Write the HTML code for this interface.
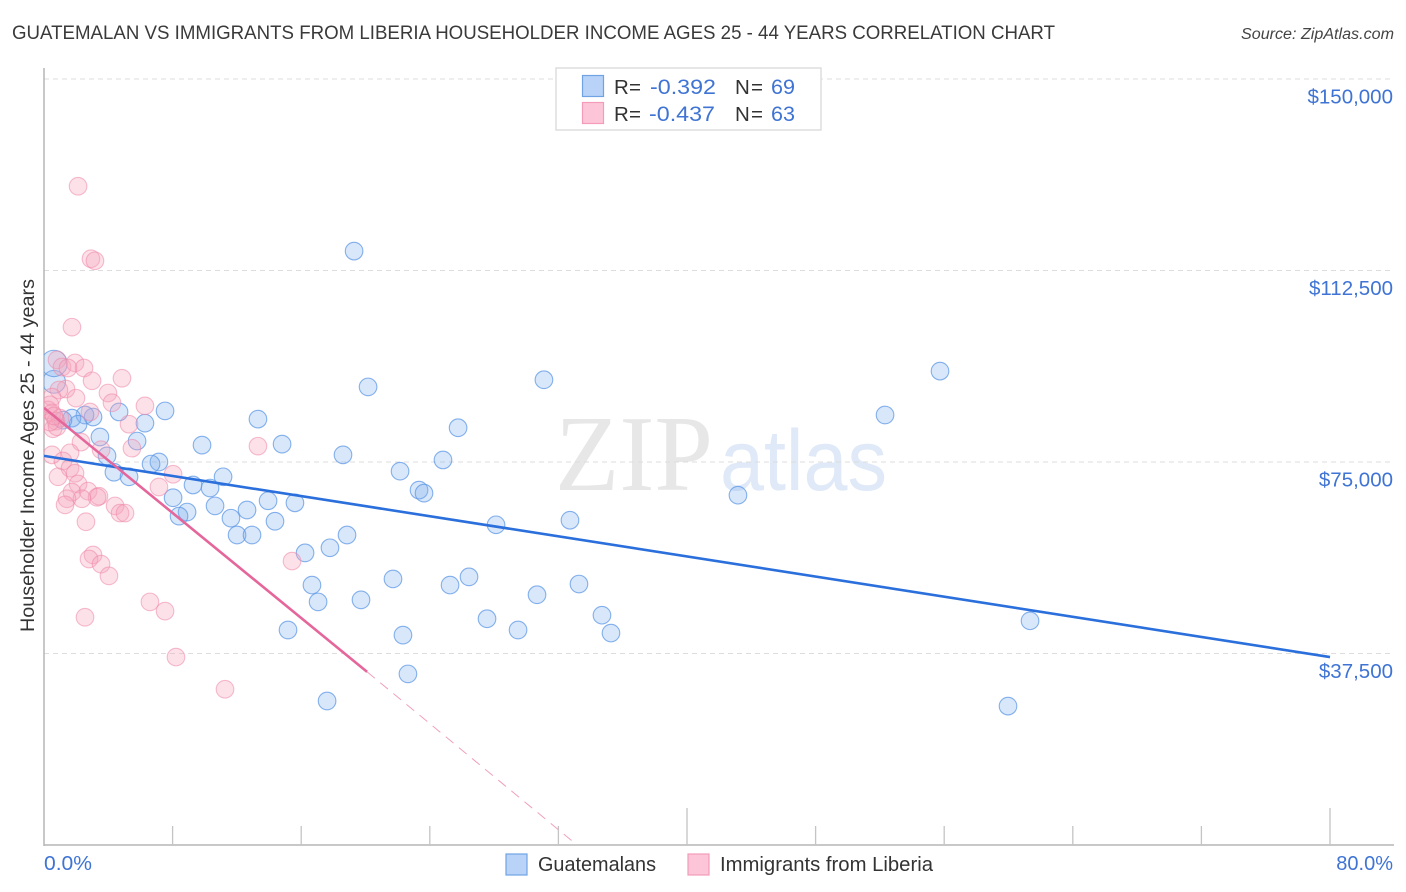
<!DOCTYPE html>
<html lang="en">
<head>
<meta charset="utf-8">
<title>Guatemalan vs Immigrants from Liberia Householder Income Correlation Chart</title>
<style>
html,body{margin:0;padding:0;background:#fff;}
svg{display:block;font-family:"Liberation Sans",sans-serif;}
</style>
</head>
<body>
<svg id="chart" xmlns="http://www.w3.org/2000/svg" width="1406" height="892" viewBox="0 0 1406 892">
  <defs>
    <clipPath id="plot-clip"><rect x="44" y="60" width="1352" height="785"/></clipPath>
  </defs>
  <rect width="1406" height="892" fill="#fff"/>
  <text x="12" y="39" font-size="19.5" fill="#3a3a3a" textLength="1043" lengthAdjust="spacingAndGlyphs">GUATEMALAN VS IMMIGRANTS FROM LIBERIA HOUSEHOLDER INCOME AGES 25 - 44 YEARS CORRELATION CHART</text>
  <text x="1241" y="39" font-size="15.5" font-style="italic" fill="#444" textLength="153" lengthAdjust="spacingAndGlyphs">Source: ZipAtlas.com</text>

  <g>
    <text x="555" y="490" font-family="'Liberation Serif',serif" font-size="108" fill="#e7e7e7" textLength="158" lengthAdjust="spacingAndGlyphs">ZIP</text>
    <text x="720" y="490" font-size="86" fill="#dfe9f8" textLength="167" lengthAdjust="spacingAndGlyphs">atlas</text>
  </g>

  <g id="grid"></g>
  <g id="axes"></g>
  <g id="blue-points" clip-path="url(#plot-clip)"></g>
  <g id="pink-points" clip-path="url(#plot-clip)"></g>
  <g id="trends" clip-path="url(#plot-clip)"></g>
  <g id="y-labels"></g>

  <text transform="translate(34,632) rotate(-90)" font-size="19" fill="#333" textLength="353" lengthAdjust="spacingAndGlyphs">Householder Income Ages 25 - 44 years</text>
  <text x="44" y="870" font-size="20" fill="#3f74d4" textLength="48" lengthAdjust="spacingAndGlyphs">0.0%</text>
  <text x="1393" y="870" font-size="20" fill="#3f74d4" text-anchor="end">80.0%</text>

  <g>
    <rect x="556" y="68" width="265" height="62" fill="#fff" stroke="#ddd" stroke-width="1.5"/>
    <rect x="582.5" y="75.5" width="21" height="21" fill="#b8d3f7" stroke="#6fa3e4" stroke-width="1.2"/>
    <rect x="582.5" y="102.5" width="21" height="21" fill="#fcc6d8" stroke="#f39bb9" stroke-width="1.2"/>
    <text x="614" y="94" font-size="20.5" fill="#333" textLength="27" lengthAdjust="spacing">R =</text>
    <text x="650" y="94" font-size="21.5" fill="#3f74d4" textLength="66" lengthAdjust="spacingAndGlyphs">-0.392</text>
    <text x="735" y="94" font-size="20.5" fill="#333" textLength="28" lengthAdjust="spacing">N =</text>
    <text x="771" y="94" font-size="21.5" fill="#3f74d4" textLength="24" lengthAdjust="spacingAndGlyphs">69</text>
    <text x="614" y="121" font-size="20.5" fill="#333" textLength="27" lengthAdjust="spacing">R =</text>
    <text x="649" y="121" font-size="21.5" fill="#3f74d4" textLength="66" lengthAdjust="spacingAndGlyphs">-0.437</text>
    <text x="735" y="121" font-size="20.5" fill="#333" textLength="28" lengthAdjust="spacing">N =</text>
    <text x="771" y="121" font-size="21.5" fill="#3f74d4" textLength="24" lengthAdjust="spacingAndGlyphs">63</text>
  </g>

  <g>
    <g>
      <rect x="506" y="854" width="21" height="21" fill="#b8d3f7" stroke="#6fa3e4" stroke-width="1.2"/>
      <text x="538" y="871" font-size="20" fill="#333" textLength="118" lengthAdjust="spacingAndGlyphs">Guatemalans</text>
    </g>
    <g>
      <rect x="688" y="854" width="21" height="21" fill="#fcc6d8" stroke="#f39bb9" stroke-width="1.2"/>
      <text x="720" y="871" font-size="20" fill="#333" textLength="213" lengthAdjust="spacingAndGlyphs">Immigrants from Liberia</text>
    </g>
  </g>
</svg>
<script>
const yTicks = [37500, 75000, 112500, 150000];
const yTickLabels = ["$37,500", "$75,000", "$112,500", "$150,000"];
const xTicks = [0, 8, 16, 24, 32, 40, 48, 56, 64, 72, 80];
const xMajorTicks = [40, 80];

const blueX = [19.29,55.74,31.10,20.16,52.32,7.53,13.31,4.67,3.05,2.55,1.74,2.12,1.18,6.28,25.76,14.81,9.83,5.79,3.48,3.92,18.60,24.82,22.15,4.35,5.29,7.15,6.66,11.14,9.27,10.33,23.33,23.64,43.17,8.03,13.94,15.61,10.64,8.90,8.40,12.63,11.63,14.37,28.12,32.72,12.01,12.94,18.85,16.24,17.79,21.71,26.44,25.26,16.67,33.28,30.67,19.72,17.05,34.71,27.56,61.34,29.49,35.27,22.33,15.18,22.64,17.61,59.97,0.62,0.62];
const blueIncome = [116.3,92.8,91.1,89.7,84.2,85.0,83.4,84.8,83.8,84.2,83.6,82.4,83.2,82.6,81.7,78.5,78.3,79.1,79.9,76.2,76.4,75.4,73.2,73.0,72.1,75.0,74.6,72.1,70.5,69.9,69.5,68.9,68.5,68.0,67.4,67.0,66.4,65.2,64.4,65.6,64.0,63.4,62.7,63.6,60.7,60.7,60.7,57.2,58.2,52.1,52.5,50.9,50.9,51.1,49.0,48.0,47.6,45.0,44.3,43.9,42.1,41.5,41.1,42.1,33.5,28.2,27.2,90.7,94.3];
const blueWeight = [1,1,1,1,1,1,1,1,1,1,1,1,1,1,1,1,1,1,1,1,1,1,1,1,1,1,1,1,1,1,1,1,1,1,1,1,1,1,1,1,1,1,1,1,1,1,1,1,1,1,1,1,1,1,1,1,1,1,1,1,1,1,1,1,1,1,1,1.3,1.5];

const pinkX = [2.12,2.92,3.17,1.74,0.81,1.12,1.93,2.49,1.49,2.99,4.85,1.37,0.93,1.99,3.98,6.28,4.23,2.86,0.50,0.25,0.50,0.75,1.00,5.29,13.31,0.56,0.81,2.30,5.47,3.55,0.50,1.62,1.18,1.62,8.03,0.87,1.93,2.12,7.15,1.74,2.74,3.42,3.30,2.36,1.43,1.31,4.42,4.73,5.04,2.61,3.05,2.80,3.55,4.04,15.43,6.59,7.53,2.55,8.21,11.26,0.37,0.37,0.62];
const pinkIncome = [129.0,114.8,114.4,101.4,95.0,93.6,94.4,93.4,93.4,90.9,91.4,89.3,89.1,87.5,88.5,86.0,86.6,84.8,87.7,85.2,84.6,83.0,83.6,82.4,78.1,81.5,81.9,78.9,77.7,77.4,76.4,76.8,75.2,73.8,72.6,72.1,72.8,70.7,70.1,69.1,69.3,68.3,68.1,67.8,67.8,66.6,66.4,65.0,65.0,63.3,56.8,56.0,55.0,52.7,55.6,47.6,45.8,44.6,36.8,30.5,86.2,82.8,84.0];

const blueTrendX = [0, 80];
const blueTrendIncome = [76.2, 36.8];
const pinkTrendX = [0, 20.1];
const pinkTrendIncome = [85.6, 33.9];
const pinkDashX = [20.1, 33.0];
const pinkDashIncome = [33.9, 0.4];

const SVG_NS = "http://www.w3.org/2000/svg";
const xScale = function (pct) { return 44 + pct * 16.075; };
const yScale = function (thousands) { return 845 - thousands * 5.1067; };
const make = function (tag, parent, attrs) {
  const el = document.createElementNS(SVG_NS, tag);
  Object.keys(attrs).forEach(function (k) { el.setAttribute(k, attrs[k]); });
  document.getElementById(parent).appendChild(el);
  return el;
};

yTicks.forEach(function (v, i) {
  const y = yScale(v / 1000);
  const line = make("line", "grid", { x1: 44, x2: 1394, y1: y, y2: y, stroke: "#ddd", "stroke-width": 1, "stroke-dasharray": "5 4" });
  
  
  const label = make("text", "y-labels", { x: 1393, y: y + 24.5, "text-anchor": "end", "font-size": 20.5, fill: "#3f74d4" });
  label.textContent = yTickLabels[i];
  
  
});

const yAxisLine = make("line", "axes", { x1: 44, x2: 44, y1: 68, y2: 846, stroke: "#b5b5b5", "stroke-width": 1.5 });


const xAxisLine = make("line", "axes", { x1: 44, x2: 1394, y1: 845, y2: 845, stroke: "#b5b5b5", "stroke-width": 1.5 });


xTicks.slice(1).forEach(function (t) {
  const x = xScale(t);
  const top = xMajorTicks.indexOf(t) >= 0 ? 808 : 826;
  const tick = make("line", "axes", { x1: x, x2: x, y1: top, y2: 845, stroke: "#c4c4c4", "stroke-width": 1.3 });
  
  
});

blueX.forEach(function (v, i) {
  const dot = make("circle", "blue-points", { cx: xScale(v), cy: yScale(blueIncome[i]), r: 8.8 * blueWeight[i], fill: "#7fb0f0", "fill-opacity": 0.3, stroke: "#5f98e6", "stroke-opacity": 0.75, "stroke-width": 1.1 });
  
  
});
pinkX.forEach(function (v, i) {
  const dot = make("circle", "pink-points", { cx: xScale(v), cy: yScale(pinkIncome[i]), r: 8.8, fill: "#f7a3bd", "fill-opacity": 0.33, stroke: "#ef86a8", "stroke-opacity": 0.55, "stroke-width": 1.1 });
  
  
});

const blueTrend = make("line", "trends", { x1: xScale(blueTrendX[0]), y1: yScale(blueTrendIncome[0]), x2: xScale(blueTrendX[1]), y2: yScale(blueTrendIncome[1]), stroke: "#2a6fdb", "stroke-width": 2.6 });


const pinkTrend = make("line", "trends", { x1: xScale(pinkTrendX[0]), y1: yScale(pinkTrendIncome[0]), x2: xScale(pinkTrendX[1]), y2: yScale(pinkTrendIncome[1]), stroke: "#e5669b", "stroke-width": 2.6 });


const pinkDash = make("line", "trends", { x1: xScale(pinkDashX[0]), y1: yScale(pinkDashIncome[0]), x2: xScale(pinkDashX[1]), y2: yScale(pinkDashIncome[1]), stroke: "#f0a0bc", "stroke-width": 1, "stroke-dasharray": "10 7" });


</script>
</body>
</html>
